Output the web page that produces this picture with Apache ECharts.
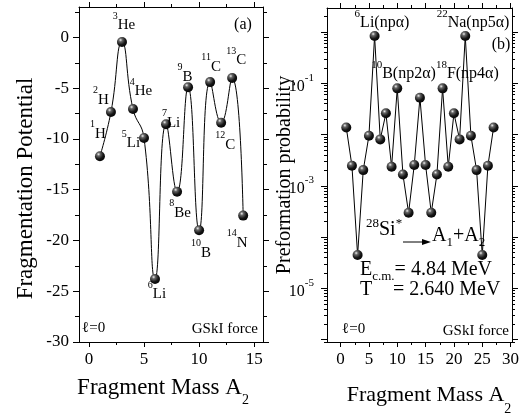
<!DOCTYPE html>
<html>
<head>
<meta charset="utf-8">
<title>28Si* fragmentation potential and preformation probability</title>
<script src="https://cdn.jsdelivr.net/npm/echarts@6.0.0/dist/echarts.min.js"></script>
<style>
html, body { margin: 0; padding: 0; background: #fff; }
#chart { width: 524px; height: 415px; }
</style>
</head>
<body>
<div id="chart"></div>
<script>
// (a) fragmentation potential, l = 0
var massA = [1, 2, 3, 4, 5, 6, 7, 8, 9, 10, 11, 12, 13, 14];
var potential = [-11.7, -7.35, -0.45, -7.05, -9.9, -23.8, -8.55, -15.2, -4.9, -19.0, -4.4, -8.4, -4.0, -17.55];
var fragIso = ['1', '2', '3', '4', '5', '6', '7', '8', '9', '10', '11', '12', '13', '14'];
var fragSym = ['H', 'H', 'He', 'He', 'Li', 'Li', 'Li', 'Be', 'B', 'B', 'C', 'C', 'C', 'N'];

// (b) preformation probability
var massB = [1, 2, 3, 4, 5, 6, 7, 8, 9, 10, 11, 12, 13, 14, 15, 16, 17, 18, 19, 20, 21, 22, 23, 24, 25, 26, 27];
var preform = [1.38e-2, 2.47e-3, 4.47e-5, 2.03e-3, 9.5e-3, 0.84, 8.07e-3, 2.6e-2, 2.36e-3, 7.98e-2,
               1.67e-3, 2.98e-4, 2.55e-3, 5.23e-2, 2.55e-3, 2.98e-4, 1.67e-3, 7.98e-2, 2.36e-3, 2.6e-2,
               8.07e-3, 0.84, 9.5e-3, 2.03e-3, 4.47e-5, 2.47e-3, 1.38e-2];

// ticks
var xMajorA = [0, 5, 10, 15];
var xMinorA = [2.5, 7.5, 12.5];
var yMajorA = [-30, -25, -20, -15, -10, -5, 0];
var yMinorA = [-27.5, -22.5, -17.5, -12.5, -7.5, -2.5, 2.5];
var xMajorB = [0, 5, 10, 15, 20, 25, 30];
var xMinorB = [2.5, 7.5, 12.5, 17.5, 22.5, 27.5];
var yMajorB = [1e-6, 1e-5, 1e-4, 1e-3, 1e-2, 1e-1, 1];
var yLabelB = [1e-5, 1e-3, 1e-1];
var yMinorB = [];
for (var e = -7; e <= 0; e++) {
    for (var k = 2; k <= 9; k++) yMinorB.push(k * Math.pow(10, e));
}

var FONT = '"Liberation Serif", "DejaVu Serif", serif';
var BLACK = '#000';

// label offsets of the isotope names, px from the point
var isoOffsets = [[-2, -26], [-10, -16], [2, -20], [8, -21], [-13, 2], [2, 12], [5, -5],
                  [3, 18], [-3, -14], [2, 19], [1, -19], [4, 19], [4, -21], [-6, 24]];

var isoRich = {
    s: { fontFamily: FONT, fontSize: 10, lineHeight: 10, verticalAlign: 'top', color: BLACK },
    n: { fontFamily: FONT, fontSize: 15, lineHeight: 22, verticalAlign: 'bottom', color: BLACK }
};
// "Fragment Mass A2" with a real subscript
var massNameRich = {
    n: { fontFamily: FONT, fontSize: 23, lineHeight: 28, verticalAlign: 'top', color: BLACK },
    b: { fontFamily: FONT, fontSize: 14, lineHeight: 14, verticalAlign: 'top', padding: [17, 0, 0, 0], color: BLACK }
};
var massNameRichB = {
    n: { fontFamily: FONT, fontSize: 22, lineHeight: 26, verticalAlign: 'top', color: BLACK },
    b: { fontFamily: FONT, fontSize: 14, lineHeight: 13, verticalAlign: 'top', padding: [18, 0, 0, 0], color: BLACK }
};
var expRich = {
    b: { fontFamily: FONT, fontSize: 16, lineHeight: 22, verticalAlign: 'bottom', color: BLACK },
    e: { fontFamily: FONT, fontSize: 11, lineHeight: 12, verticalAlign: 'top', color: BLACK }
};

function axis(o) {
    var label = { show: false };
    if (o.labels) {
        label = { show: true, customValues: o.labels, fontFamily: FONT, fontSize: 17, color: BLACK, margin: o.margin };
        if (o.fmt) { label.formatter = o.fmt; label.rich = o.rich; }
    }
    return {
        type: o.log ? 'log' : 'value',
        logBase: 10,
        gridIndex: o.grid,
        position: o.pos,
        min: o.min,
        max: o.max,
        silent: true,
        splitLine: { show: false },
        axisLine: { show: !!o.line, onZero: false, lineStyle: { color: BLACK, width: 1 } },
        axisTick: { show: true, length: o.len, customValues: o.ticks, lineStyle: { color: BLACK, width: 1 } },
        axisLabel: label,
        name: o.name || '',
        nameLocation: 'middle',
        nameGap: o.nameGap,
        nameMoveOverlap: false,
        nameTextStyle: o.nameStyle
    };
}

var sphere = {
    type: 'radial', x: 0.36, y: 0.3, r: 0.8,
    colorStops: [
        { offset: 0, color: '#f0f0f0' },
        { offset: 0.22, color: '#666' },
        { offset: 0.6, color: '#151515' },
        { offset: 1, color: '#000' }
    ]
};

var xAxes = [
    axis({ grid: 0, pos: 'bottom', min: -0.9, max: 15.8, line: true, len: 5, ticks: xMajorA, labels: xMajorA, margin: 9,
           name: '{n|Fragment Mass A}{b|2}', nameGap: 34, nameStyle: { rich: massNameRich, padding: [0, 16, 0, 0] } }),
    axis({ grid: 0, pos: 'bottom', min: -0.9, max: 15.8, len: 3, ticks: xMinorA }),
    axis({ grid: 0, pos: 'top', min: -0.9, max: 15.8, line: true, len: 5, ticks: xMajorA }),
    axis({ grid: 0, pos: 'top', min: -0.9, max: 15.8, len: 3, ticks: xMinorA }),
    axis({ grid: 1, pos: 'bottom', min: -2.4, max: 30.25, line: true, len: 5, ticks: xMajorB, labels: xMajorB, margin: 9,
           name: '{n|Fragment Mass A}{b|2}', nameGap: 42, nameStyle: { rich: massNameRichB, padding: [0, 0, 0, 19] } }),
    axis({ grid: 1, pos: 'bottom', min: -2.4, max: 30.25, len: 3, ticks: xMinorB }),
    axis({ grid: 1, pos: 'top', min: -2.4, max: 30.25, line: true, len: 5, ticks: xMajorB }),
    axis({ grid: 1, pos: 'top', min: -2.4, max: 30.25, len: 3, ticks: xMinorB })
];

var yAxes = [
    axis({ grid: 0, pos: 'left', min: -30, max: 3, line: true, len: 6, ticks: yMajorA, labels: yMajorA, margin: 10,
           name: 'Fragmentation Potential', nameGap: 42,
           nameStyle: { fontFamily: FONT, fontSize: 23, color: BLACK, padding: [0, 28, 0, 0] } }),
    axis({ grid: 0, pos: 'left', min: -30, max: 3, len: 4, ticks: yMinorA }),
    axis({ grid: 0, pos: 'right', min: -30, max: 3, line: true, len: 6, ticks: yMajorA }),
    axis({ grid: 0, pos: 'right', min: -30, max: 3, len: 4, ticks: yMinorA }),
    axis({ grid: 1, pos: 'left', log: true, min: 9e-7, max: 2.95, line: true, len: 6, ticks: yMajorB, labels: yLabelB, margin: 13,
           rich: expRich,
           fmt: function (v) { return '{b|10}{e|' + Math.round(Math.log10(v)) + '}'; },
           name: 'Preformation probability', nameGap: 32,
           nameStyle: { fontFamily: FONT, fontSize: 20, color: BLACK } }),
    axis({ grid: 1, pos: 'left', log: true, min: 9e-7, max: 2.95, len: 3, ticks: yMinorB }),
    axis({ grid: 1, pos: 'right', log: true, min: 9e-7, max: 2.95, line: true, len: 6, ticks: yMajorB }),
    axis({ grid: 1, pos: 'right', log: true, min: 9e-7, max: 2.95, len: 3, ticks: yMinorB })
];

var potentialData = massA.map(function (a, i) {
    return {
        value: [a, potential[i]],
        label: { offset: isoOffsets[i], formatter: '{s|' + fragIso[i] + '}{n|' + fragSym[i] + '}' }
    };
});
var preformData = massB.map(function (a, i) { return [a, preform[i]]; });

function txt(x, y, text, size, align, rich) {
    var style = { text: text, font: size + 'px ' + FONT, fill: BLACK, align: align || 'left', verticalAlign: 'middle' };
    if (rich) style.rich = rich;
    return { type: 'text', x: x, y: y, silent: true, z: 10, style: style };
}
var annRich = {
    s: { fontFamily: FONT, fontSize: 11, lineHeight: 10, verticalAlign: 'top', color: BLACK },
    n: { fontFamily: FONT, fontSize: 16, lineHeight: 22, verticalAlign: 'bottom', color: BLACK }
};
var bigRich = {
    s: { fontFamily: FONT, fontSize: 13, lineHeight: 12, verticalAlign: 'top', color: BLACK },
    n: { fontFamily: FONT, fontSize: 20, lineHeight: 26, verticalAlign: 'middle', color: BLACK },
    b: { fontFamily: FONT, fontSize: 13, lineHeight: 10, verticalAlign: 'bottom', color: BLACK }
};

var chart = echarts.init(document.getElementById('chart'));
chart.setOption({
    backgroundColor: '#fff',
    animation: false,
    textStyle: { fontFamily: FONT, color: BLACK },
    grid: [
        { left: 79, top: 7, width: 184, height: 335, outerBoundsMode: 'none', containLabel: false },
        { left: 327, top: 8, width: 185, height: 334, outerBoundsMode: 'none', containLabel: false }
    ],
    xAxis: xAxes,
    yAxis: yAxes,
    series: [{
        type: 'line',
        xAxisIndex: 0,
        yAxisIndex: 0,
        data: potentialData,
        smooth: 0.5,
        symbol: 'circle',
        symbolSize: 10,
        lineStyle: { color: BLACK, width: 1 },
        itemStyle: { color: sphere, borderWidth: 0 },
        label: { show: true, position: 'inside', rich: isoRich, fontFamily: FONT }
    }, {
        type: 'line',
        xAxisIndex: 4,
        yAxisIndex: 4,
        data: preformData,
        symbol: 'circle',
        symbolSize: 10,
        lineStyle: { color: BLACK, width: 1 },
        itemStyle: { color: sphere, borderWidth: 0 }
    }],
    graphic: [
        txt(243, 25, '(a)', 16, 'center'),
        txt(82, 328, '\u2113=0', 15, 'left'),
        txt(258, 329, 'GSkI force', 15, 'right'),
        txt(382, 20, '{s|6}{n|Li(np\u03b1)}', 16, 'center', annRich),
        txt(473, 20, '{s|22}{n|Na(np5\u03b1)}', 16, 'center', annRich),
        txt(501, 45, '(b)', 16, 'center'),
        txt(435, 71, '{s|10}{n|B(np2\u03b1)}{s|18}{n|F(np4\u03b1)}', 16, 'center', annRich),
        txt(366, 230, '{s|28}{n|Si}{s|*}', 20, 'left', bigRich),
        { type: 'line', silent: true, shape: { x1: 403, y1: 242, x2: 424, y2: 242 }, style: { stroke: BLACK, lineWidth: 1 } },
        { type: 'polygon', silent: true, shape: { points: [[422, 239], [431, 242], [422, 245]] }, style: { fill: BLACK } },
        txt(432, 236, '{n|A}{b|1}{n|+A}{b|2}', 20, 'left', bigRich),
        txt(360, 270, '{n|E}{b|c.m.}{n|= 4.84 MeV}', 20, 'left', bigRich),
        txt(360, 290, 'T', 20, 'left'),
        txt(393, 290, '= 2.640 MeV', 20, 'left'),
        txt(342, 329, '\u2113=0', 15, 'left'),
        txt(509, 331, 'GSkI force', 15, 'right')
    ]
});
</script>
</body>
</html>
